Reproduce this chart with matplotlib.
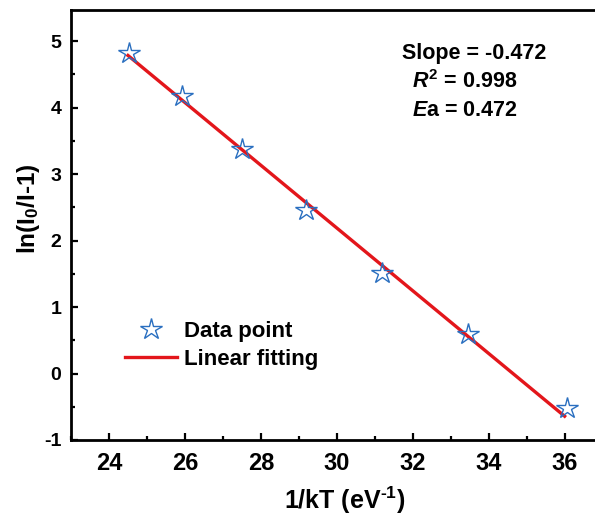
import numpy as np
import matplotlib
matplotlib.use('Agg')
import matplotlib.pyplot as plt
from matplotlib.ticker import MultipleLocator

# data
inv_kT = [24.53, 25.92, 27.51, 29.19, 31.18, 33.46, 36.05]
ln_ratio = [4.83, 4.17, 3.38, 2.46, 1.52, 0.6, -0.52]

# linear fit as reported on the figure
fit_slope = -0.472
fit_intercept = 16.35
fit_x = [24.5, 36.0]

annotations = ['Slope = -0.472', r'$\it{R}^{2}$ = 0.998', r'$\it{E}$a = 0.472']

plt.rcParams['font.family'] = ['Liberation Sans', 'DejaVu Sans']
plt.rcParams['font.weight'] = 'bold'
plt.rcParams['axes.unicode_minus'] = False
plt.rcParams['mathtext.fontset'] = 'custom'
plt.rcParams['mathtext.rm'] = 'Liberation Sans:bold'
plt.rcParams['mathtext.it'] = 'Liberation Sans:bold:italic'
plt.rcParams['mathtext.bf'] = 'Liberation Sans:bold'

W, H = 595, 518
fig = plt.figure(figsize=(W / 100, H / 100), dpi=100)
ax = fig.add_axes([71 / W, 78 / H, 1 - 71 / W, 430 / H])

fx = np.array(fit_x)
ax.plot(fx, fit_slope * fx + fit_intercept, color='#e3161b', lw=2.4,
        label='Linear fitting', zorder=2)
ax.plot(inv_kT, ln_ratio, linestyle='none', marker='*', markersize=16,
        markerfacecolor='none', markeredgecolor='#2a6fc0', markeredgewidth=1.0,
        label='Data point', zorder=3)

ax.set_xlim(23, 23 + 524 / 37.97)
ax.set_ylim(-1, 5.47)
ax.xaxis.set_major_locator(MultipleLocator(2))
ax.xaxis.set_minor_locator(MultipleLocator(1))
ax.yaxis.set_major_locator(MultipleLocator(1))
ax.yaxis.set_minor_locator(MultipleLocator(0.5))
ax.tick_params(which='both', direction='in', width=1.6)
ax.tick_params(which='major', length=5)
ax.tick_params(which='minor', length=3)
ax.tick_params(axis='x', labelsize=17, pad=9)
ax.tick_params(axis='y', labelsize=14, pad=7)
ax.spines['right'].set_visible(False)
for s in ['left', 'bottom', 'top']:
    ax.spines[s].set_linewidth(2)

ax.set_xlabel(r'1/kT (eV$^{\text{-}1}$)', fontsize=18, fontweight='bold', va='center')
ax.xaxis.set_label_coords((345 - 71) / 524, (18 - 78) / 430)
ax.set_ylabel(r'ln(I$_{0}$/I-1)', fontsize=17.5, fontweight='bold', va='center')
ax.yaxis.set_label_coords((28 - 71) / 524, (H - 209 - 78) / 430)

ys = [53, 82, 110]
xs = [474, 465, 465]
for t, px, py in zip(annotations, xs, ys):
    fig.text(px / W, 1 - py / H, t, ha='center', va='center',
             fontsize=15.5, fontweight='bold')

h, l = ax.get_legend_handles_labels()
ax.legend(h[::-1], l[::-1], loc='upper left',
          bbox_to_anchor=((116 - 71) / 524, (H - 312 - 78) / 430),
          borderaxespad=0, frameon=False, fontsize=16, handlelength=2.35,
          handletextpad=0.3, labelspacing=0.3)

fig.savefig('out.png', dpi=100)
